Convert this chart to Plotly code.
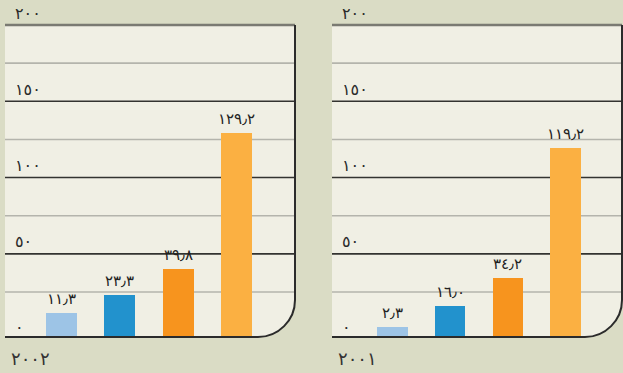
import plotly.graph_objects as go

W, H = 623, 373

categories = ["أ", "ب", "ج", "د"]
values_2002 = [11.3, 23.3, 39.8, 129.2]
values_2001 = [2.3, 16.0, 34.2, 119.2]
labels_2002 = ["١١٫٣", "٢٣٫٣", "٣٩٫٨", "١٢٩٫٢"]
labels_2001 = ["٢٫٣", "١٦٫٠", "٣٤٫٢", "١١٩٫٢"]
tick_vals = [0, 50, 100, 150, 200]
tick_text = ["٠", "٥٠", "١٠٠", "١٥٠", "٢٠٠"]
year_2002 = "٢٠٠٢"
year_2001 = "٢٠٠١"

bar_colors = ["#9dc4e6", "#2292cd", "#f7941e", "#fbb042"]
BG = "#dadcc5"
PANEL = "#f0efe4"
Y_MIN = -4.5
Y_MAX = 200
FONT = "DejaVu Sans"

top_px, bot_px = 25, 337
panels = [
    dict(left=5, right=295, xr=[-0.97, 4.0], vals=values_2002, labels=labels_2002, year=year_2002, ax=""),
    dict(left=332, right=622, xr=[-1.05, 3.98], vals=values_2001, labels=labels_2001, year=year_2001, ax="2"),
]


def px(x):
    return x / W


def py(y):
    return 1 - y / H


fig = go.Figure()
shapes = []
annotations = []
layout = {}
R = 37
k = 0.55 * R

for p in panels:
    ax = p["ax"]
    xa = "x" + ax
    ya = "y" + ax
    fig.add_trace(go.Bar(
        x=categories,
        y=[v - Y_MIN for v in p["vals"]],
        base=[Y_MIN] * len(p["vals"]),
        marker=dict(color=bar_colors, line=dict(width=0)),
        width=0.53,
        xaxis=xa, yaxis=ya,
        showlegend=False, hoverinfo="skip",
    ))
    L, Rt = p["left"], p["right"]
    layout["xaxis" + ax] = dict(domain=[px(L), px(Rt)], range=p["xr"], visible=False,
                                 fixedrange=True, anchor=ya, type="category",
                                 categoryorder="array", categoryarray=categories)
    layout["yaxis" + ax] = dict(domain=[py(bot_px), py(top_px)], range=[Y_MIN, Y_MAX],
                                 visible=False, fixedrange=True, anchor=xa)
    path = (f"M {px(L)},{py(top_px)} L {px(Rt)},{py(top_px)} L {px(Rt)},{py(bot_px - R)} "
            f"C {px(Rt)},{py(bot_px - R + k)} {px(Rt - R + k)},{py(bot_px)} {px(Rt - R)},{py(bot_px)} "
            f"L {px(L)},{py(bot_px)} Z")
    shapes.append(dict(type="path", path=path, xref="paper", yref="paper", fillcolor=PANEL,
                       line=dict(width=0), layer="below"))
    for g in range(25, 200, 25):
        dark = g % 50 == 0
        shapes.append(dict(type="line", xref=xa + " domain", yref=ya, x0=0, x1=1, y0=g, y1=g,
                           line=dict(color="#333330" if dark else "#b4b4ac", width=1.6),
                           layer="below"))
    shapes.append(dict(type="line", xref="paper", yref="paper", x0=px(L), x1=px(Rt),
                       y0=py(top_px), y1=py(top_px), line=dict(color="#7a7a72", width=2.5),
                       layer="above"))
    bpath = (f"M {px(Rt)},{py(top_px)} L {px(Rt)},{py(bot_px - R)} "
             f"C {px(Rt)},{py(bot_px - R + k)} {px(Rt - R + k)},{py(bot_px)} {px(Rt - R)},{py(bot_px)} "
             f"L {px(L)},{py(bot_px)}")
    shapes.append(dict(type="path", path=bpath, xref="paper", yref="paper",
                       line=dict(color="#2b2b2b", width=2), layer="above"))
    for tv, tt in zip(tick_vals, tick_text):
        annotations.append(dict(x=px(L + 8), xref="paper", y=tv if tv > 0 else Y_MIN, yref=ya,
                                yshift=12 if tv > 0 else 10, text=tt, showarrow=False,
                                xanchor="left", yanchor="middle",
                                font=dict(family=FONT, size=16, color="#2a2a2a")))
    for i, (v, lab) in enumerate(zip(p["vals"], p["labels"])):
        annotations.append(dict(x=i, xref=xa, y=v, yref=ya, yshift=3, text=lab,
                                showarrow=False, xanchor="center", yanchor="bottom",
                                font=dict(family=FONT, size=15, color="#222222")))
    annotations.append(dict(x=px(L + 4), xref="paper", y=py(358), yref="paper", text=p["year"],
                            showarrow=False, xanchor="left", yanchor="middle",
                            font=dict(family=FONT, size=18, color="#333333")))

fig.update_layout(
    width=W, height=H,
    margin=dict(l=0, r=0, t=0, b=0),
    paper_bgcolor=BG, plot_bgcolor="rgba(0,0,0,0)",
    shapes=shapes, annotations=annotations,
    bargap=0,
    **layout,
)

fig.write_html("out.html", config={"displayModeBar": False})
